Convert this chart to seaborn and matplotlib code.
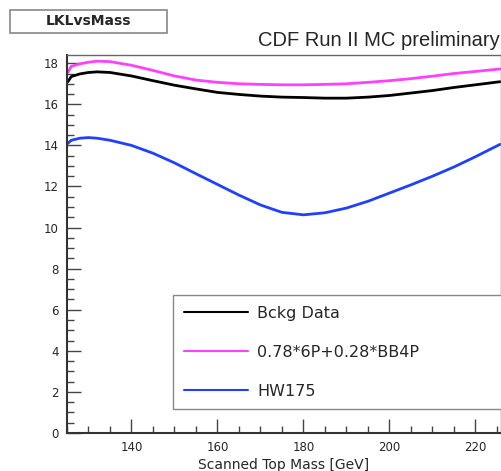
import numpy as np
import pandas as pd
import seaborn as sns
import matplotlib.pyplot as plt
from matplotlib.ticker import MultipleLocator
from matplotlib.patches import Rectangle

# ---- data ----
mass = [125.2, 126.0, 128, 130, 132, 135, 140, 145, 150, 155, 160, 165, 170,
        175, 180, 185, 190, 195, 200, 205, 210, 215, 220, 225.7]
bckg = [17.10, 17.35, 17.48, 17.55, 17.58, 17.55, 17.38, 17.15, 16.93, 16.75,
        16.58, 16.48, 16.40, 16.35, 16.33, 16.30, 16.30, 16.35, 16.43, 16.55,
        16.67, 16.82, 16.95, 17.10]
mix = [17.55, 17.85, 17.97, 18.05, 18.10, 18.08, 17.90, 17.65, 17.38, 17.18,
       17.07, 17.00, 16.97, 16.95, 16.95, 16.97, 17.00, 17.07, 17.15, 17.25,
       17.37, 17.50, 17.60, 17.72]
hw175 = [14.10, 14.25, 14.35, 14.38, 14.35, 14.25, 14.00, 13.62, 13.15, 12.62,
         12.10, 11.58, 11.10, 10.74, 10.62, 10.72, 10.95, 11.28, 11.68, 12.08,
         12.50, 12.95, 13.45, 14.05]
series_names = ["Bckg Data", "0.78*6P+0.28*BB4P", "HW175"]
colors = ["#000000", "#ff40ff", "#2040ff"]
xticks = [140, 160, 180, 200, 220]
yticks = [0, 2, 4, 6, 8, 10, 12, 14, 16, 18]

df = pd.DataFrame({
    "mass": mass * 3,
    "value": bckg + mix + hw175,
    "series": [series_names[0]] * len(mass) + [series_names[1]] * len(mass)
              + [series_names[2]] * len(mass),
})

sns.set_style("white")
plt.rcParams["font.family"] = ["DejaVu Sans"]

fig = plt.figure(figsize=(5.01, 4.71), dpi=100)
ax = fig.add_axes([0.1337, 0.0807, 0.866, 0.8025])

sns.lineplot(data=df, x="mass", y="value", hue="series",
             hue_order=series_names, palette=colors, ax=ax,
             legend=False, linewidth=2.0, sort=True, estimator=None)

ax.set_xlim(125.0, 225.9)
ax.set_ylim(0, 18.4)
ax.set_xticks(xticks)
ax.set_yticks(yticks)
ax.xaxis.set_minor_locator(MultipleLocator(5))
ax.yaxis.set_minor_locator(MultipleLocator(0.5))
ax.tick_params(axis="both", which="major", direction="in", length=10,
               width=1.0, color="#444444", labelsize=8.5, pad=6,
               bottom=True, left=True, top=False, right=False)
ax.tick_params(axis="both", which="minor", direction="in", length=5,
               width=1.0, color="#444444",
               bottom=True, left=True, top=False, right=False)

ax.set_xlabel("Scanned Top Mass [GeV]", fontsize=10, labelpad=3)
ax.set_ylabel("")

for s in ["left", "bottom"]:
    ax.spines[s].set_color("#333333")
    ax.spines[s].set_linewidth(1.5)
for s in ["top", "right"]:
    ax.spines[s].set_color("#666666")
    ax.spines[s].set_linewidth(1.0)

handles = ax.get_lines()[:3]
leg = ax.legend(handles, series_names, loc="lower left",
                bbox_to_anchor=(0.245, 0.063, 0.78, 0.31), mode="expand",
                borderaxespad=0.0,
                fontsize=11.5, handlelength=4.0, handletextpad=0.6,
                labelspacing=1.5, borderpad=0.65, frameon=True,
                fancybox=False, edgecolor="#888888", framealpha=1.0)
leg.get_frame().set_linewidth(1.0)
for ln in leg.get_lines():
    ln.set_linewidth(1.5)

# title box
fig.patches.append(Rectangle((0.02, 0.93), 0.313, 0.049,
                             transform=fig.transFigure, facecolor="white",
                             edgecolor="#888888", linewidth=1.2))
fig.text(0.177, 0.955, "LKLvsMass", ha="center", va="center",
         fontsize=10, fontweight="bold")

fig.text(0.997, 0.913, "CDF Run II MC preliminary", ha="right",
         va="center", fontsize=14.5, family=["Liberation Sans", "DejaVu Sans"])

fig.savefig("out.png", dpi=100)
